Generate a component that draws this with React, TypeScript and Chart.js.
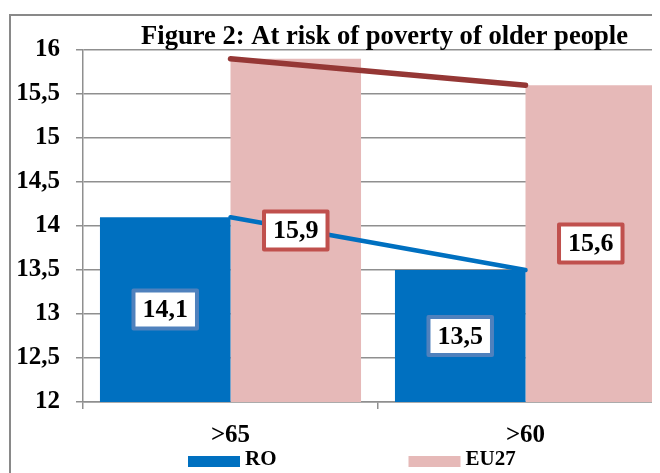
import React, { useEffect, useRef } from 'react';
import { Chart, registerables } from 'chart.js';

Chart.register(...registerables);

// ---- data ----
const categories: string[] = ['>65', '>60'];
const seriesNames: string[] = ['RO', 'EU27'];
const roValues: number[] = [14.1, 13.5];
const eu27Values: number[] = [15.9, 15.6];
const yMin = 12;
const yMax = 16;
const yStep = 0.5;
const titleText = 'Figure 2: At risk of poverty of older people';

// ---- styles ----
const FONT = "'Times New Roman', 'Liberation Serif', serif";
const RO_COLOR = '#0070C0';
const EU_COLOR = '#E6B9B8';
const RO_LINE = '#0070C0';
const EU_LINE = '#953735';
const RO_LABEL_BORDER = '#4F81BD';
const EU_LABEL_BORDER = '#C0504D';
const GRID = '#8f8f8f';
const labelBorders = [RO_LABEL_BORDER, EU_LABEL_BORDER];

const fmt = (v: number) => String(v).replace('.', ',');

const overlayPlugin = {
  id: 'overlay',
  afterDraw(chart: any) {
    const ctx = chart.ctx;
    // title
    ctx.save();
    ctx.font = `bold 26.6px ${FONT}`;
    ctx.fillStyle = '#000';
    ctx.textAlign = 'center';
    ctx.textBaseline = 'alphabetic';
    ctx.fillText(titleText, chart.width / 2, chart.chartArea.top - 6);
    ctx.restore();

    // value labels (centred in each bar)
    const ys = chart.scales.y;
    for (let i = 0; i < 2; i++) {
      const ds = chart.data.datasets[i];
      const meta = chart.getDatasetMeta(i);
      for (let j = 0; j < meta.data.length; j++) {
        const el = meta.data[j];
        const v = Number(ds.data[j]);
        const text = fmt(v);
        const cx = el.x;
        const top = ys.getPixelForValue(v);
        const bottom = ys.getPixelForValue(yMin);
        const cy = (top + bottom) / 2;
        ctx.save();
        ctx.font = `bold 26px ${FONT}`;
        const tw = ctx.measureText(text).width;
        const w = tw + 18;
        const h = 38;
        ctx.beginPath();
        ctx.rect(cx - w / 2, cy - h / 2, w, h);
        ctx.fillStyle = '#ffffff';
        ctx.fill();
        ctx.lineWidth = 4;
        ctx.lineJoin = 'round';
        ctx.strokeStyle = labelBorders[i];
        ctx.stroke();
        ctx.fillStyle = '#000';
        ctx.textAlign = 'center';
        ctx.textBaseline = 'middle';
        ctx.fillText(text, cx, cy + 1);
        ctx.restore();
      }
    }

    // legend
    const y = chart.height - 24.5;
    let x = chart.chartArea.left + 105;
    ctx.save();
    ctx.font = `bold 21px ${FONT}`;
    ctx.textAlign = 'left';
    ctx.textBaseline = 'middle';
    for (let i = 0; i < 2; i++) {
      const ds = chart.data.datasets[i];
      ctx.fillStyle = ds.backgroundColor;
      ctx.fillRect(x, y - 5.5, 52, 11);
      x += 52 + 5;
      ctx.fillStyle = '#000';
      ctx.fillText(ds.label, x, y - 1.5);
      x += ctx.measureText(ds.label).width + 132;
    }
    ctx.restore();
  },
};

export default function App() {
  const canvasRef = useRef<HTMLCanvasElement | null>(null);

  useEffect(() => {
    document.body.style.overflow = 'hidden';
    const canvas = canvasRef.current;
    if (!canvas) return;
    const chart = new Chart(canvas, {
      type: 'bar',
      data: {
        labels: categories,
        datasets: [
          {
            type: 'bar',
            label: seriesNames[0],
            data: roValues,
            backgroundColor: RO_COLOR,
            borderWidth: 0,
            order: 2,
          } as any,
          {
            type: 'bar',
            label: seriesNames[1],
            data: eu27Values,
            backgroundColor: EU_COLOR,
            borderWidth: 0,
            order: 2,
          } as any,
          {
            type: 'line',
            label: seriesNames[0] + ' trend',
            data: [...roValues],
            borderColor: RO_LINE,
            borderWidth: 4.5,
            borderCapStyle: 'round',
            pointRadius: 0,
            fill: false,
            tension: 0,
            order: 1,
          } as any,
          {
            type: 'line',
            label: seriesNames[1] + ' trend',
            data: [...eu27Values],
            borderColor: EU_LINE,
            borderWidth: 5.5,
            borderCapStyle: 'round',
            pointRadius: 0,
            fill: false,
            tension: 0,
            order: 1,
          } as any,
        ],
      },
      options: {
        responsive: false,
        animation: false,
        devicePixelRatio: 1,
        layout: { padding: { top: 34, right: 85, left: 0, bottom: 23 } },
        datasets: {
          bar: { categoryPercentage: 0.885, barPercentage: 1 },
        },
        plugins: {
          legend: { display: false },
          title: { display: false },
          tooltip: { enabled: false },
        },
        scales: {
          x: {
            offset: true,
            grid: {
              display: true,
              drawOnChartArea: false,
              drawTicks: true,
              tickLength: 7,
              color: GRID,
              lineWidth: 1.5,
              offset: true,
            },
            border: { display: true, color: GRID, width: 1.5 },
            ticks: {
              font: { family: FONT, size: 25, weight: 'bold' },
              color: '#000',
              padding: 12,
            },
          },
          y: {
            min: yMin,
            max: yMax,
            ticks: {
              stepSize: yStep,
              callback: (v: any) => fmt(Number(v)),
              font: { family: FONT, size: 25, weight: 'bold' },
              color: '#000',
              padding: 16,
            },
            grid: { color: GRID, lineWidth: 1.5, tickLength: 7 },
            border: { display: true, color: GRID, width: 1.5 },
            afterFit: (s: any) => {
              s.width = 72;
            },
          },
        },
      } as any,
      plugins: [overlayPlugin],
    });
    return () => {
      chart.destroy();
    };
  }, []);

  return (
    <div style={{ width: 652, height: 465, overflow: 'hidden', position: 'relative' }}>
      <div
        style={{
          position: 'absolute',
          left: 1,
          top: 6,
          width: 747,
          height: 470,
          border: '2px solid #898989',
          background: '#fff',
        }}
      >
        <canvas ref={canvasRef} width={747} height={470} style={{ display: 'block', width: 747, height: 470 }} />
      </div>
    </div>
  );
}
